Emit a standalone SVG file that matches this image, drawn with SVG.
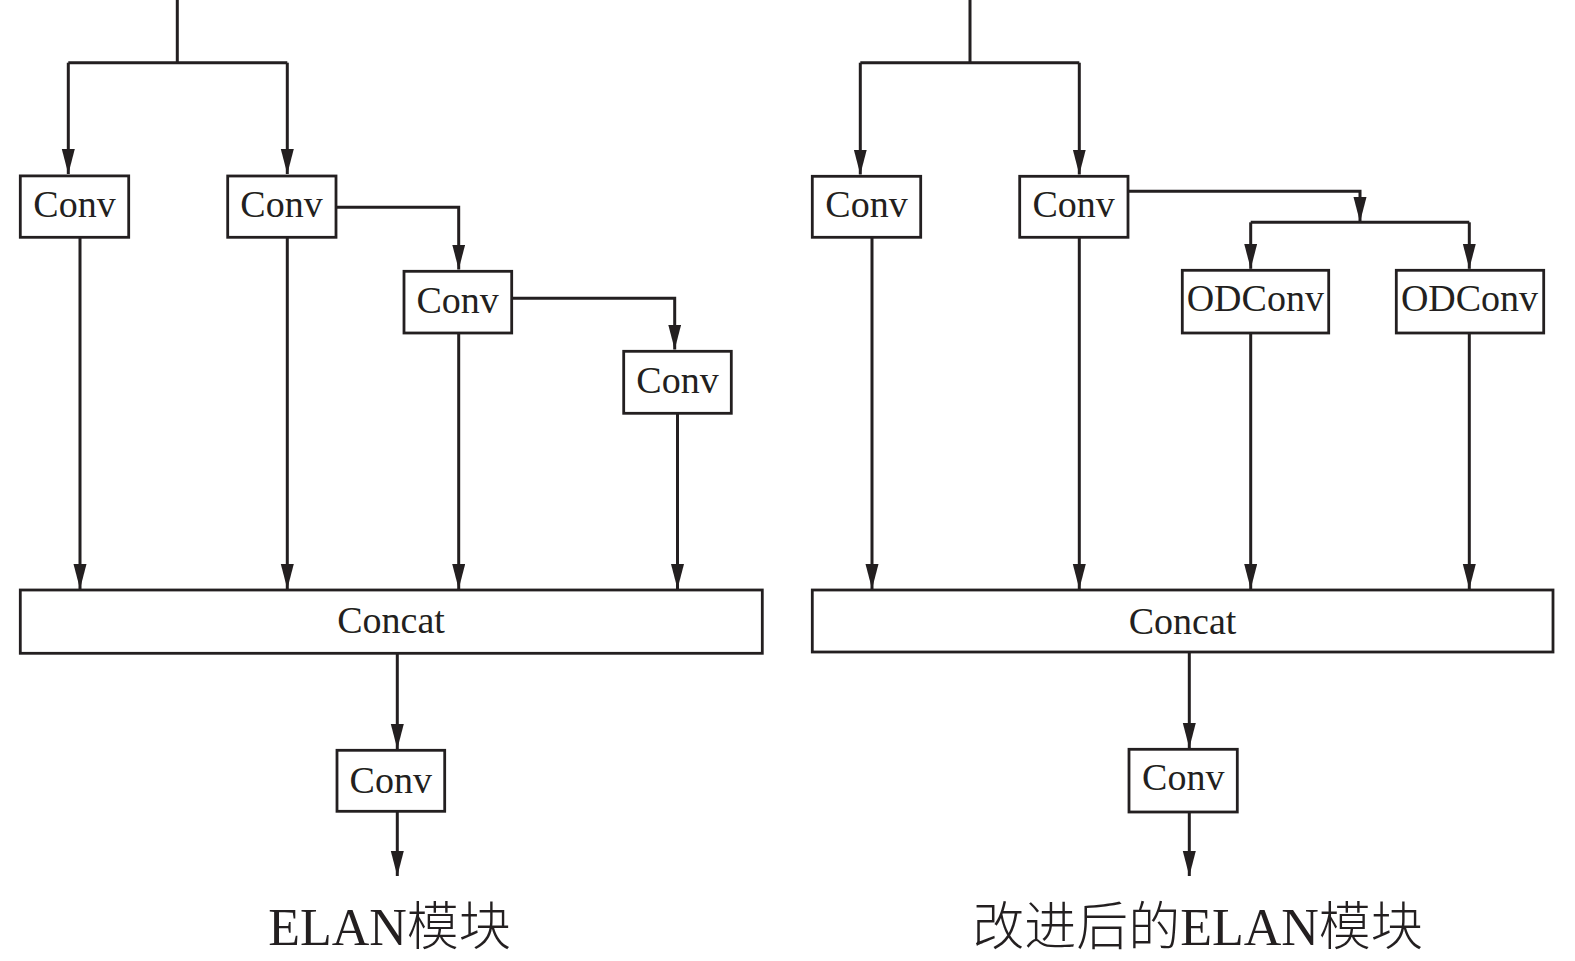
<svg xmlns="http://www.w3.org/2000/svg" width="1575" height="961" viewBox="0 0 1575 961">
<style>
.box{fill:#fff;stroke:#231f20;stroke-width:2.8}
.lbl{font-family:"Liberation Serif","Times New Roman",serif;font-size:38px;fill:#231f20;text-anchor:middle}
.ttl{font-family:"Liberation Serif","Noto Sans CJK SC",serif;font-size:52px;font-weight:300;fill:#231f20;text-anchor:middle}
.ln{fill:none;stroke:#231f20;stroke-width:3}
.ar{marker-end:url(#ah)}
</style>
<defs>
<marker id="ah" markerUnits="userSpaceOnUse" markerWidth="26" markerHeight="14" refX="25" refY="6.5" orient="auto">
<path d="M0,0 L25,6.5 L0,13 Z" fill="#231f20"/>
</marker>
</defs>
<rect width="1575" height="961" fill="#fff"/>
<g id="connectors">
<!-- left -->
<path class="ln" d="M177.3,0 V62.7 M68.3,62.7 H287.3"/>
<path class="ln ar" d="M68.3,62.7 V174"/>
<path class="ln ar" d="M287.3,62.7 V174"/>
<path class="ln ar" d="M80,237 V589"/>
<path class="ln ar" d="M287.3,237 V589"/>
<path class="ln ar" d="M336,207.3 H458.7 V269.5"/>
<path class="ln ar" d="M458.7,333 V589"/>
<path class="ln ar" d="M511.7,298.3 H674.7 V349.5"/>
<path class="ln ar" d="M677.5,413 V589"/>
<path class="ln ar" d="M397.3,653 V749"/>
<path class="ln ar" d="M397.3,811 V876"/>
<!-- right -->
<path class="ln" d="M970,0 V62.7 M860.3,62.7 H1079.3"/>
<path class="ln ar" d="M860.3,62.7 V174.5"/>
<path class="ln ar" d="M1079.3,62.7 V174.5"/>
<path class="ln ar" d="M872,237 V589"/>
<path class="ln ar" d="M1079.3,237 V589"/>
<path class="ln ar" d="M1128,191.3 H1360 V222"/>
<path class="ln" d="M1250.7,222.3 H1469.3"/>
<path class="ln ar" d="M1250.7,222.3 V268.8"/>
<path class="ln ar" d="M1469.3,222.3 V268.8"/>
<path class="ln ar" d="M1250.7,333 V589"/>
<path class="ln ar" d="M1469.3,333 V589"/>
<path class="ln ar" d="M1189.3,652 V748"/>
<path class="ln ar" d="M1189.3,812 V876"/>
</g>
<g id="l-conv1"><rect class="box" x="20.3" y="175.9" width="108.4" height="61.4"/><text class="lbl" x="74.5" y="217">Conv</text></g>
<g id="l-conv2"><rect class="box" x="227.7" y="176" width="108.3" height="61.3"/><text class="lbl" x="281.5" y="217">Conv</text></g>
<g id="l-conv3"><rect class="box" x="404" y="271.3" width="107.7" height="61.7"/><text class="lbl" x="457.7" y="313.3">Conv</text></g>
<g id="l-conv4"><rect class="box" x="623.7" y="351.3" width="107.6" height="62"/><text class="lbl" x="677.5" y="393.3">Conv</text></g>
<g id="l-concat"><rect class="box" x="20.3" y="590" width="742" height="63.3"/><text class="lbl" x="391" y="632.7">Concat</text></g>
<g id="l-conv-out"><rect class="box" x="337" y="750.3" width="107.7" height="61"/><text class="lbl" x="390.8" y="792.7">Conv</text></g>
<g id="l-title"><text class="ttl" x="389.5" y="945">ELAN模块</text></g>
<g id="r-conv1"><rect class="box" x="812.3" y="176.3" width="108.4" height="61"/><text class="lbl" x="866.5" y="216.7">Conv</text></g>
<g id="r-conv2"><rect class="box" x="1019.7" y="176.3" width="108.3" height="61"/><text class="lbl" x="1073.6" y="216.7">Conv</text></g>
<g id="r-odconv1"><rect class="box" x="1182.3" y="270.3" width="146.4" height="62.7"/><text class="lbl" x="1255.3" y="310.7">ODConv</text></g>
<g id="r-odconv2"><rect class="box" x="1396.3" y="270.3" width="147.4" height="62.7"/><text class="lbl" x="1469.5" y="310.7">ODConv</text></g>
<g id="r-concat"><rect class="box" x="812.3" y="590" width="740.7" height="62"/><text class="lbl" x="1182.6" y="634">Concat</text></g>
<g id="r-conv-out"><rect class="box" x="1129" y="749.3" width="108.3" height="62.7"/><text class="lbl" x="1183.3" y="790">Conv</text></g>
<g id="r-title"><text class="ttl" x="1197.5" y="945">改进后的ELAN模块</text></g>
</svg>
